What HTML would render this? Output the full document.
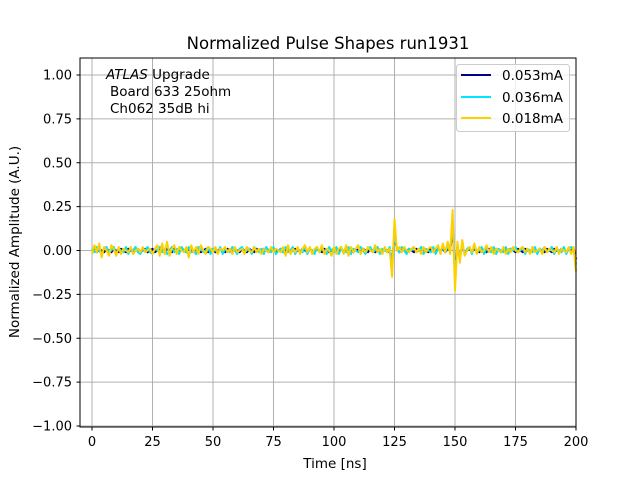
<!DOCTYPE html>
<html><head><meta charset="utf-8"><style>
body{margin:0;background:#fff}
svg text{font-family:"DejaVu Sans","Liberation Sans",sans-serif;fill:#000}
</style></head><body>
<svg id="chart" width="640" height="480" viewBox="0 0 640 480">
<rect width="640" height="480" fill="#fff"/>
<text x="328" y="49" font-size="16.5" text-anchor="middle">Normalized Pulse Shapes run1931</text>
<g id="grid"></g>
<g id="series"></g>
<rect x="80" y="58" width="496" height="369" fill="none" stroke="#000" stroke-width="1"/>
<g id="ticks"></g>
<text x="335" y="468" font-size="13.5" text-anchor="middle">Time [ns]</text>
<text transform="translate(19,242) rotate(-90)" font-size="13.5" text-anchor="middle">Normalized Amplitude (A.U.)</text>
<g font-size="13.5">
<text x="106" y="79"><tspan font-style="italic">ATLAS</tspan> Upgrade</text>
<text x="110" y="96">Board 633 25ohm</text>
<text x="110" y="113">Ch062 35dB hi</text>
</g>
<g>
<rect x="456.5" y="64.5" width="113" height="67" rx="3" fill="#fff" fill-opacity="0.8" stroke="#ccc"/>
<line x1="461" y1="75" x2="491" y2="75" stroke="#00008b" stroke-width="2"/>
<text x="502" y="80" font-size="13.5">0.053mA</text>
<line x1="461" y1="97" x2="491" y2="97" stroke="#00e5ff" stroke-width="2"/>
<text x="502" y="102" font-size="13.5">0.036mA</text>
<line x1="461" y1="118" x2="491" y2="118" stroke="#ffd000" stroke-width="2"/>
<text x="502" y="123" font-size="13.5">0.018mA</text>
</g>
</svg>
<script>
const xTicks=[0,25,50,75,100,125,150,175,200];
const yTicks=[-1.00,-0.75,-0.50,-0.25,0.00,0.25,0.50,0.75,1.00];
const yTickLabels=["−1.00","−0.75","−0.50","−0.25","0.00","0.25","0.50","0.75","1.00"];
const seriesYellow=[-0.02,0.03,-0.01,0.04,-0.04,0.02,0.0,-0.03,0.03,0.01,
-0.03,0.02,-0.02,0.01,0.0,-0.01,0.02,-0.02,0.0,0.01,
-0.01,0.02,-0.01,0.0,0.01,-0.02,0.01,0.03,-0.03,0.04,
-0.02,0.05,-0.03,0.01,0.03,-0.02,0.02,0.0,-0.01,0.02,
-0.04,0.03,-0.01,0.02,-0.02,0.03,0.0,-0.02,0.02,0.01,
-0.01,0.02,-0.02,0.01,0.0,0.02,-0.01,0.01,-0.02,0.02,
-0.01,0.0,0.01,-0.02,0.02,0.0,-0.01,0.02,-0.01,0.01,
-0.02,0.01,0.0,-0.01,0.02,-0.01,0.01,0.0,-0.01,0.02,
-0.03,0.03,-0.02,0.01,-0.01,0.02,-0.02,0.01,0.03,-0.01,
0.02,-0.02,0.01,0.02,-0.01,0.03,-0.02,0.01,0.0,-0.03,
0.02,-0.02,0.01,0.02,-0.02,0.03,-0.03,0.02,-0.01,0.01,
0.03,-0.02,0.01,-0.01,0.02,0.0,-0.01,0.03,-0.01,0.01,
-0.02,0.02,-0.01,0.01,-0.15,0.18,0.0,0.02,-0.01,0.02,
0.0,-0.01,0.01,0.02,-0.01,0.01,-0.02,0.02,-0.01,0.01,
0.02,-0.01,0.01,0.03,-0.02,0.04,-0.01,0.05,-0.02,0.23,
-0.23,0.05,-0.07,0.06,-0.03,0.0,0.02,-0.01,0.04,-0.02,
0.02,-0.01,0.0,0.03,-0.01,0.02,-0.02,0.01,0.0,-0.01,
0.02,-0.02,0.01,-0.01,0.02,0.0,-0.01,0.01,0.02,-0.01,
0.01,-0.02,0.02,-0.01,0.0,0.01,-0.02,0.02,-0.01,0.01,
0.0,-0.01,0.02,-0.02,0.01,0.0,-0.01,0.02,-0.02,0.02,
-0.12];
const seriesCyan=[0.01,-0.01,0.02,0.0,-0.02,0.01,0.02,-0.01,0.0,0.02,
-0.02,0.01,0.0,-0.01,0.02,-0.02,0.01,0.0,0.02,-0.01,
-0.02,0.01,0.0,0.02,-0.01,-0.02,0.01,0.0,0.02,-0.01,
0.01,-0.02,0.0,0.02,-0.01,0.01,-0.02,0.02,0.0,-0.01,
0.02,-0.01,0.0,-0.02,0.02,0.01,-0.01,0.0,0.02,-0.02,
0.01,0.0,-0.01,0.02,-0.02,0.01,0.0,-0.01,0.02,0.0,
-0.02,0.01,0.02,-0.01,0.0,0.01,-0.02,0.02,0.0,-0.01,
0.01,-0.02,0.02,0.0,-0.01,0.02,-0.02,0.0,0.01,-0.01,
0.02,-0.01,0.0,0.02,-0.02,0.01,0.0,-0.01,0.02,-0.02,
0.01,0.0,-0.02,0.02,-0.01,0.01,0.0,-0.02,0.02,0.0,
-0.01,0.02,-0.02,0.01,0.0,-0.01,0.02,-0.02,0.01,0.0,
-0.01,0.02,0.0,-0.02,0.01,0.02,-0.01,0.0,0.02,-0.02,
0.01,0.0,-0.01,0.02,-0.08,0.1,0.01,-0.01,0.02,0.0,
-0.02,0.01,0.0,0.02,-0.01,0.0,0.02,-0.02,0.01,0.0,
-0.01,0.02,-0.02,0.01,0.0,0.02,-0.01,0.02,0.0,0.15,
-0.15,0.03,-0.04,0.03,-0.02,0.01,0.02,-0.02,0.03,-0.01,
0.0,0.02,-0.02,0.01,0.0,-0.01,0.02,-0.02,0.01,0.0,
-0.01,0.02,-0.02,0.01,0.0,0.02,-0.01,0.0,0.02,-0.02,
0.01,0.0,-0.01,0.02,-0.02,0.01,0.0,0.02,-0.01,0.0,
0.02,-0.02,0.01,0.0,-0.01,0.02,-0.02,0.01,0.02,0.0,
-0.08];
const seriesNavy=[0.0,0.01,-0.01,0.01,0.0,-0.01,0.01,0.0,-0.01,0.01,
0.0,-0.01,0.01,0.0,-0.01,0.01,0.0,-0.01,0.0,0.01,
-0.01,0.0,0.01,-0.01,0.0,0.01,-0.01,0.0,0.01,0.0,
-0.01,0.01,0.0,-0.01,0.01,0.0,-0.01,0.01,0.0,-0.01,
0.01,0.0,-0.01,0.01,0.0,-0.01,0.0,0.01,-0.01,0.0,
0.01,-0.01,0.0,0.01,0.0,-0.01,0.01,0.0,-0.01,0.01,
0.0,-0.01,0.01,0.0,-0.01,0.01,0.0,-0.01,0.01,0.0,
-0.01,0.01,0.0,-0.01,0.0,0.01,-0.01,0.0,0.01,-0.01,
0.0,0.01,-0.01,0.0,0.01,0.0,-0.01,0.01,0.0,-0.01,
0.01,0.0,-0.01,0.01,0.0,-0.01,0.01,0.0,-0.01,0.0,
0.01,-0.01,0.0,0.01,-0.01,0.0,0.01,0.0,-0.01,0.01,
0.0,-0.01,0.01,0.0,-0.01,0.01,0.0,-0.01,0.01,0.0,
-0.01,0.01,0.0,-0.01,-0.06,0.08,0.01,-0.01,0.01,0.0,
-0.01,0.01,0.0,-0.01,0.01,0.0,-0.01,0.01,0.0,-0.01,
0.01,0.0,-0.01,0.01,0.0,0.01,-0.01,0.01,0.0,0.12,
-0.12,0.02,-0.03,0.02,-0.01,0.0,0.01,-0.01,0.01,0.0,
-0.01,0.01,0.0,-0.01,0.01,0.0,-0.01,0.01,0.0,-0.01,
0.01,0.0,-0.01,0.01,0.0,-0.01,0.01,0.0,-0.01,0.01,
0.0,-0.01,0.01,0.0,-0.01,0.01,0.0,-0.01,0.01,0.0,
-0.01,0.01,0.0,-0.01,0.01,0.0,-0.01,0.01,0.0,0.01,
-0.05];
const NS='http://www.w3.org/2000/svg';
function xs(t){return 92+(t-0)*(576-92)/200;}
function ys(v){return 250.5-v*175.5;}
const grid=document.getElementById('grid'),ticks=document.getElementById('ticks'),ser=document.getElementById('series');
xTicks.forEach(t=>{
 const g=document.createElementNS(NS,'line');
 g.setAttribute('x1',xs(t));g.setAttribute('x2',xs(t));g.setAttribute('y1',58);g.setAttribute('y2',427);
 g.setAttribute('stroke','#b0b0b0');g.setAttribute('stroke-width','1');
 
 
 grid.appendChild(g);
 const tk=document.createElementNS(NS,'line');
 tk.setAttribute('x1',xs(t));tk.setAttribute('x2',xs(t));tk.setAttribute('y1',427);tk.setAttribute('y2',430.5);tk.setAttribute('stroke','#000');
 
 
 ticks.appendChild(tk);
 const lb=document.createElementNS(NS,'text');
 lb.setAttribute('x',xs(t));lb.setAttribute('y',446);lb.setAttribute('font-size','13');lb.setAttribute('text-anchor','middle');
 lb.textContent=String(t);
 
 
 ticks.appendChild(lb);
});
yTicks.forEach((v,i)=>{
 const g=document.createElementNS(NS,'line');
 g.setAttribute('x1',80);g.setAttribute('x2',576);g.setAttribute('y1',ys(v));g.setAttribute('y2',ys(v));
 g.setAttribute('stroke','#b0b0b0');g.setAttribute('stroke-width','1');
 
 
 grid.appendChild(g);
 const tk=document.createElementNS(NS,'line');
 tk.setAttribute('x1',76.5);tk.setAttribute('x2',80);tk.setAttribute('y1',ys(v));tk.setAttribute('y2',ys(v));tk.setAttribute('stroke','#000');
 
 
 ticks.appendChild(tk);
 const lb=document.createElementNS(NS,'text');
 lb.setAttribute('x',72);lb.setAttribute('y',ys(v)+4.5);lb.setAttribute('font-size','13');lb.setAttribute('text-anchor','end');
 lb.textContent=yTickLabels[i];
 
 
 ticks.appendChild(lb);
});
function drawLine(arr,color,name){
 const p=document.createElementNS(NS,'polyline');
 p.setAttribute('points',arr.map((v,i)=>xs(i).toFixed(2)+','+ys(v).toFixed(2)).join(' '));
 p.setAttribute('fill','none');p.setAttribute('stroke',color);p.setAttribute('stroke-width','2');p.setAttribute('stroke-linejoin','round');
 
 
 ser.appendChild(p);
}
drawLine(seriesNavy,'#00008b','series-0053mA');
drawLine(seriesCyan,'#00e5ff','series-0036mA');
drawLine(seriesYellow,'#ffd000','series-0018mA');
</script>
</body></html>
